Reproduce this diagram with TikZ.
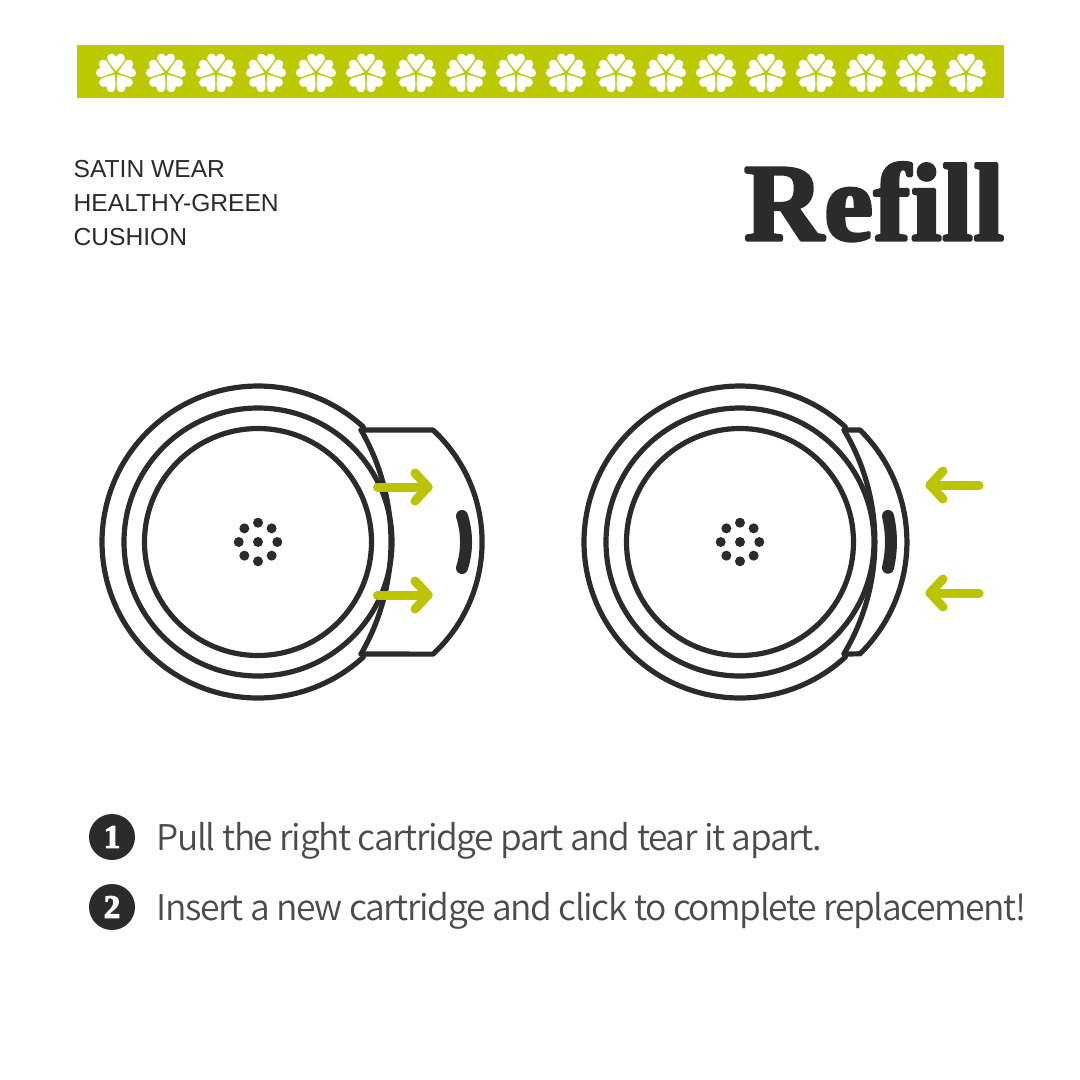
\documentclass[tikz,border=0pt]{standalone}
\usepackage{fontspec}
\setmainfont{Liberation Sans}
\newfontfamily\bodyfont[UprightFont=* DemiLight,LetterSpace=-3.9]{Noto Sans CJK KR}
\newfontfamily\logofont[FakeBold=3,Ligatures=NoCommon,LetterSpace=0.6]{Liberation Serif Bold}
\definecolor{ink}{HTML}{2B2B2B}
\definecolor{lime}{HTML}{BBC900}
\definecolor{arrowlime}{HTML}{BCC400}
\tikzset{
  ln/.style={draw=ink,line width=5.2pt,line join=round,line cap=round},
  slot/.style={draw=ink,line width=12pt,line cap=round},
  mv/.style={draw=arrowlime,line width=9pt,line cap=round,line join=round},
  dot/.style={fill=ink},
  label/.style={anchor=base west,inner sep=0pt,text=ink},
  head/.style={label,font=\fontsize{24.6}{24.6}\selectfont},
  stepline/.style={label,font=\bodyfont\fontsize{35.4}{35.4}\selectfont,text=ink!85},
  badge/.style={circle,fill=ink,minimum size=46pt,inner sep=0pt,text=white,font=\logofont\fontsize{33}{33}\selectfont},
  petal/.style={fill=white}
}
\begin{document}
\begin{tikzpicture}[x=1pt,y=-1pt]
\useasboundingbox (0,0) rectangle (1080,1080);
\fill[white] (0,0) rectangle (1080,1080);
% banner
\fill[lime] (77,45) rectangle (1004,98);
\foreach \i in {0,...,17}{
  \foreach \a in {0,72,144,216,288}{
    \fill[petal,shift={(116+50*\i,73)},rotate=\a]
      (0,-2) .. controls (-3.2,-5.6) and (-6.5,-10) .. (-8.8,-13.5)
      .. controls (-10.2,-19.5) and (-2.8,-21.5) .. (0,-16.5)
      .. controls (2.8,-21.5) and (10.2,-19.5) .. (8.8,-13.5)
      .. controls (6.5,-10) and (3.2,-5.6) .. (0,-2) -- cycle;
  }
}
% heading
\node[head] (t1) at (73.5,177.3) {SATIN WEAR};
\node[head] (t2) at (73.5,211.3) {HEALTHY-GREEN};
\node[head] (t3) at (73.5,245.3) {CUSHION};
\node[label,font=\logofont\fontsize{110}{110}\selectfont] (logo) at (744,240) {\special{pdf:code 1 j 1 J}Refill};
% left device
\coordinate (L) at (258,542);
\draw[ln] (L) circle[radius=134];
\draw[ln] (L) circle[radius=113.5];
\draw[ln] (L) ++(47.5:156) arc[start angle=47.5,end angle=312.5,radius=156];
\draw[ln] (361,430) -- (433,430) arc[start angle=-47.3,end angle=47.3,radius=152.5] -- (361,654);
\draw[ln] (361,430) arc[start angle=-30,end angle=30,radius=224];
\draw[slot] (462,516) arc[start angle=-17.6,end angle=17.6,radius=86];
\foreach \a in {0,45,...,315}{\fill[dot] (L) ++(\a:19.3) circle[radius=5];}
\fill[dot] (L) circle[radius=5];
\foreach \y in {487,595}{
  \draw[mv] (377.5,\y) -- (428,\y);
  \draw[mv] (415,\y-14) -- (428,\y) -- (415,\y+14);
}
% right device
\coordinate (R) at (740,542);
\draw[ln] (R) circle[radius=134];
\draw[ln] (R) circle[radius=113.5];
\draw[ln] (R) ++(47.5:156) arc[start angle=47.5,end angle=312.5,radius=156];
\draw[ln] (844,430) -- (860,430) arc[start angle=-45.5,end angle=45.5,radius=156.9] -- (844,654);
\draw[ln] (844,430) arc[start angle=-30.9,end angle=30.9,radius=217.8];
\draw[slot] (888,516) arc[start angle=-13,end angle=13,radius=115];
\foreach \a in {0,45,...,315}{\fill[dot] (R) ++(\a:19.3) circle[radius=5];}
\fill[dot] (R) circle[radius=5];
\foreach \y in {485,593}{
  \draw[mv] (979,\y) -- (930,\y);
  \draw[mv] (943,\y-14) -- (930,\y) -- (943,\y+14);
}
% steps
\node[badge] (b1) at (112,837) {1};
\node[badge] (b2) at (112,907) {2};
\node[stepline] (s1) at (156.5,850) {Pull the right cartridge part and tear it apart.};
\node[stepline] (s2) at (156.5,920) {Insert a new cartridge and click to complete replacement!};
\end{tikzpicture}
\end{document}
